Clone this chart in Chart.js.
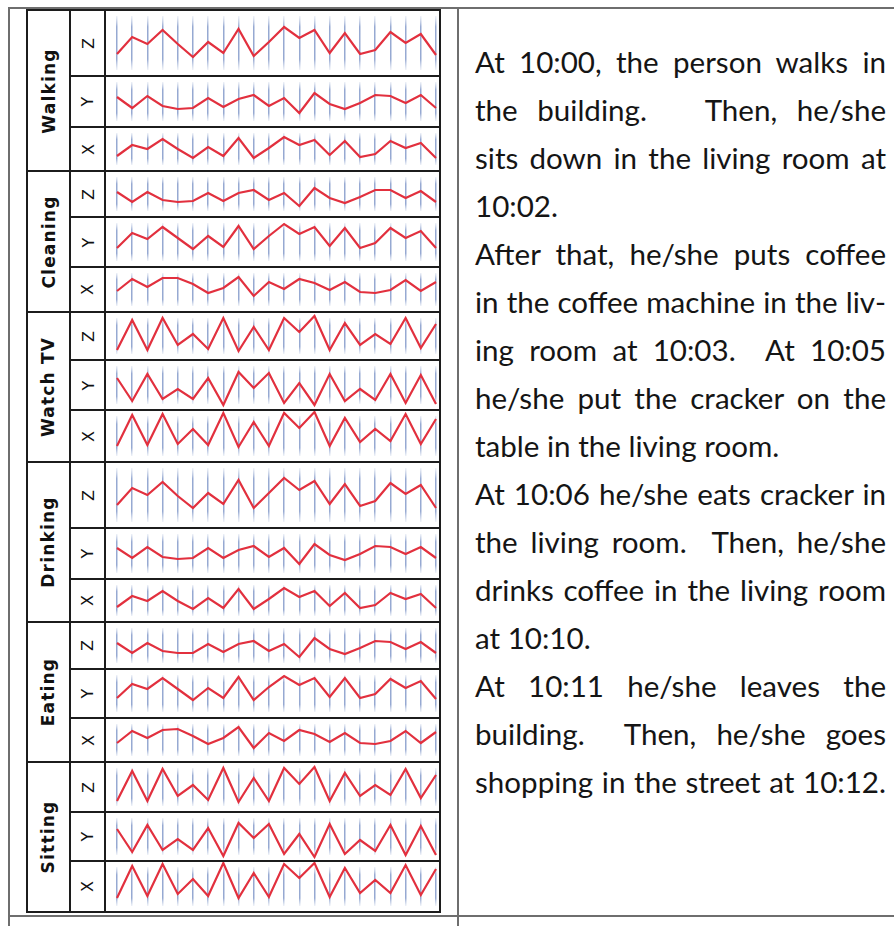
<!DOCTYPE html>
<html>
<head>
<meta charset="utf-8">
<script src="https://cdn.jsdelivr.net/npm/chart.js@4.4.1/dist/chart.umd.min.js"></script>
<style>
  html, body { margin: 0; padding: 0; background: #fff; }
  #pagina { position: relative; width: 894px; height: 926px; overflow: hidden; background: #fff; }
  .traco { position: absolute; background: #1c1c1c; }
  .moldura { position: absolute; background: #6e6e6e; }
  .rotulo { position: absolute; text-align: center; transform: rotate(-90deg); white-space: nowrap; color: #111; }
  .atividade { font-family: "DejaVu Sans", sans-serif; font-weight: bold; font-size: 17px; letter-spacing: 1.2px; }
  .eixo { font-family: "DejaVu Sans", sans-serif; font-size: 16px; }
  canvas.mini { position: absolute; }
  #texto { position: absolute; left: 475px; top: 38px; width: 411px; font-family: "Lato", sans-serif; font-size: 29px; color: #151515; }
  #texto div { height: 48px; line-height: 48px; white-space: nowrap; text-align: justify; text-align-last: justify; }
  #texto div.fim { text-align-last: left; }
</style>
</head>
<body>
<div id="pagina">
  <div id="texto">
    <div>At 10:00, the person walks in</div>
    <div>the building. &nbsp; Then, he/she</div>
    <div>sits down in the living room at</div>
    <div class="fim">10:02.</div>
    <div>After that, he/she puts coffee</div>
    <div>in the coffee machine in the liv-</div>
    <div>ing room at 10:03. &nbsp;At 10:05</div>
    <div>he/she put the cracker on the</div>
    <div class="fim">table in the living room.</div>
    <div>At 10:06 he/she eats cracker in</div>
    <div>the living room. &nbsp;Then, he/she</div>
    <div>drinks coffee in the living room</div>
    <div class="fim">at 10:10.</div>
    <div>At 10:11 he/she leaves the</div>
    <div>building. &nbsp;Then, he/she goes</div>
    <div>shopping in the street at 10:12.</div>
  </div>
</div>
<script>
// Dados: 22 amostras por eixo, por atividade
const amostras = ['1','2','3','4','5','6','7','8','9','10','11','12','13','14','15','16','17','18','19','20','21','22'];
const atividades = ['Walking', 'Cleaning', 'Watch TV', 'Drinking', 'Eating', 'Sitting'];
const eixos = ['Z', 'Y', 'X'];

const walkingZ  = [23,40,33,47,33,20,35,24,48,21,35,50,39,47,24,44,23,27,45,34,43,22];
const walkingY  = [31,20,32,22,19,20,30,21,29,33,22,30,15,35,24,19,25,33,32,25,33,20];
const walkingX  = [16,27,23,33,23,14,25,16,34,14,24,35,27,32,17,31,15,18,31,24,29,14];
const cleaningZ = [26,16,26,18,16,17,25,17,25,28,18,25,12,30,20,15,21,28,28,20,27,16];
const cleaningY = [20,35,29,41,30,19,32,21,42,19,32,44,34,41,22,40,20,25,40,30,37,20];
const cleaningX = [22,34,26,35,35,29,20,25,36,17,31,24,34,30,23,31,21,20,23,33,22,31];
const watchZ    = [11,41,11,43,16,27,12,43,10,34,11,43,29,45,11,38,16,27,17,43,13,37];
const watchY    = [33,10,37,12,22,12,33,6,39,23,38,8,28,6,37,10,22,11,37,8,36,7];
const watchX    = [17,48,18,49,19,34,18,50,16,41,17,50,35,51,17,45,21,34,22,49,19,44];
const drinkingZ = [24,41,34,47,33,21,36,25,49,21,36,51,39,48,25,45,23,28,46,35,44,21];
const drinkingY = [32,22,33,23,21,22,32,22,30,34,23,32,16,36,25,20,26,34,33,26,33,22];
const drinkingX = [16,27,22,32,22,14,25,15,34,14,24,35,26,32,17,30,15,18,30,24,29,15];
const eatingZ   = [27,17,27,19,17,17,26,18,26,29,19,26,13,32,21,16,22,29,28,21,28,17];
const eatingY   = [21,35,30,41,30,19,31,21,42,19,32,43,34,41,22,41,21,25,40,31,38,20];
const eatingX   = [20,32,25,33,34,27,19,25,36,15,30,22,33,29,21,30,20,19,22,32,20,31];
const sittingZ  = [12,42,12,44,17,28,13,45,11,35,12,45,29,46,12,40,17,28,18,44,15,38];
const sittingY  = [33,10,37,12,23,12,34,6,39,24,38,8,28,5,38,8,22,11,37,7,36,7];
const sittingX  = [15,47,17,49,19,34,17,50,15,40,16,49,35,50,16,45,20,33,20,48,18,44];

const seriesPorAtividade = [
  [walkingZ, walkingY, walkingX],
  [cleaningZ, cleaningY, cleaningX],
  [watchZ, watchY, watchX],
  [drinkingZ, drinkingY, drinkingX],
  [eatingZ, eatingY, eatingX],
  [sittingZ, sittingY, sittingX]
];

// Layout da tabela (em px): limites verticais de cada linha Z / Y / X
const limites = [
  [10, 76, 127, 171],
  [171, 217, 267, 312],
  [312, 360, 410, 462],
  [462, 528, 579, 622],
  [622, 669, 718, 762],
  [762, 812, 861, 912]
];
const colAtividade = [26, 70], colEixo = [70, 105], colGrafico = [105, 440];

const pagina = document.getElementById('pagina');

// Ajusta o tamanho da fonte para que a linha sem folga ocupe a largura do texto
function ajustarFonte() {
  const bloco = document.getElementById('texto');
  const medida = document.createElement('canvas').getContext('2d');
  const tamanho = 29;
  medida.font = tamanho + 'px Lato';
  const w = medida.measureText('At 10:06 he/she eats cracker in').width;
  bloco.style.fontSize = (tamanho * 404 / w).toFixed(2) + 'px';
}

function traco(x, y, w, h, classe) {
  const d = document.createElement('div');
  d.className = classe || 'traco';
  d.style.left = x + 'px'; d.style.top = y + 'px';
  d.style.width = w + 'px'; d.style.height = h + 'px';
  pagina.appendChild(d);
}

function rotulo(texto, classe, cx, cy, comprimento, largura) {
  const d = document.createElement('div');
  d.className = 'rotulo ' + classe;
  d.textContent = texto;
  d.style.width = comprimento + 'px';
  d.style.height = largura + 'px';
  d.style.lineHeight = largura + 'px';
  d.style.left = (cx - comprimento / 2) + 'px';
  d.style.top = (cy - largura / 2) + 'px';
  pagina.appendChild(d);
}

// Cor da grade: degradê azul que some nas pontas
function corGrade(ctx) {
  const area = ctx.chart.chartArea;
  if (!area) return 'rgba(120,145,195,0.6)';
  const g = ctx.chart.ctx.createLinearGradient(0, area.top, 0, area.bottom);
  g.addColorStop(0, 'rgba(150,170,210,0.15)');
  g.addColorStop(0.2, 'rgba(115,140,195,0.75)');
  g.addColorStop(0.8, 'rgba(115,140,195,0.75)');
  g.addColorStop(1, 'rgba(150,170,210,0.15)');
  return g;
}

// Cria um mini gráfico de linha dentro de uma célula
function criarGrafico(topo, base, valores) {
  const canvas = document.createElement('canvas');
  canvas.className = 'mini';
  const largura = colGrafico[1] - colGrafico[0] - 1;
  const altura = base - topo - 1;
  canvas.width = largura; canvas.height = altura;
  canvas.style.left = (colGrafico[0] + 1) + 'px';
  canvas.style.top = (topo + 1) + 'px';
  pagina.appendChild(canvas);

  const padTopo = 5, padBase = 6;
  return new Chart(canvas.getContext('2d'), {
    type: 'line',
    data: {
      labels: amostras,
      datasets: [{
        data: valores,
        borderColor: '#e2303e',
        borderWidth: 2.2,
        pointRadius: 0,
        tension: 0,
        clip: false
      }]
    },
    options: {
      responsive: false,
      animation: false,
      events: [],
      layout: { padding: { left: 11, right: 4, top: padTopo, bottom: padBase } },
      plugins: { legend: { display: false }, tooltip: { enabled: false } },
      scales: {
        x: {
          offset: false,
          ticks: { display: false },
          border: { display: false },
          grid: { color: corGrade, lineWidth: 1.5, drawTicks: false }
        },
        // valor = distância (px) acima da base da célula
        y: { display: false, min: padBase + 1, max: altura + 1 - padTopo }
      }
    }
  });
}

ajustarFonte();

// Moldura da página
traco(8, 7, 886, 2, 'moldura');
traco(8, 7, 2, 919, 'moldura');
traco(457, 7, 2, 919, 'moldura');
traco(8, 915, 886, 2, 'moldura');

// Tabela com os gráficos
atividades.forEach((nome, i) => {
  const lim = limites[i];
  rotulo(nome, 'atividade', (colAtividade[0] + colAtividade[1]) / 2, (lim[0] + lim[3]) / 2, lim[3] - lim[0], colAtividade[1] - colAtividade[0]);
  eixos.forEach((eixo, j) => {
    rotulo(eixo, 'eixo', (colEixo[0] + colEixo[1]) / 2, (lim[j] + lim[j + 1]) / 2, lim[j + 1] - lim[j], colEixo[1] - colEixo[0]);
    criarGrafico(lim[j], lim[j + 1], seriesPorAtividade[i][j]);
    if (j > 0) traco(colEixo[0], lim[j] - 1, colGrafico[1] - colEixo[0], 2);
  });
  if (i > 0) traco(colAtividade[0], lim[0] - 1, colGrafico[1] - colAtividade[0], 2);
});
traco(colAtividade[0], 9, colGrafico[1] - colAtividade[0] + 1, 2);
traco(colAtividade[0], 911, colGrafico[1] - colAtividade[0] + 1, 2);
traco(colAtividade[0], 9, 2, 904);
traco(colEixo[0] - 1, 9, 2, 904);
traco(colGrafico[0] - 1, 9, 2, 904);
traco(colGrafico[1] - 1, 9, 2, 904);
</script>
</body>
</html>
